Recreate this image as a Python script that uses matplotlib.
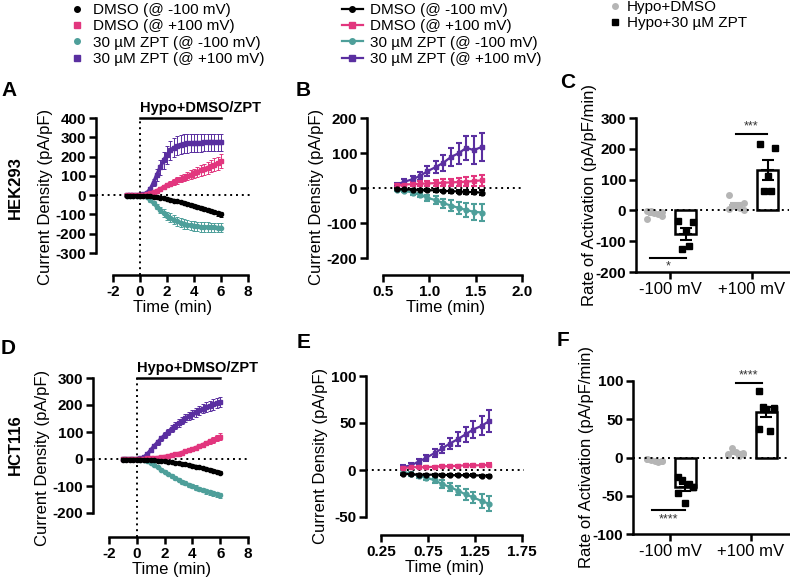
import numpy as np
import matplotlib
matplotlib.use('Agg')
import matplotlib.pyplot as plt
from matplotlib.lines import Line2D

plt.rcParams['font.family'] = ['Liberation Sans', 'DejaVu Sans']
plt.rcParams['axes.unicode_minus'] = False

# ---- time courses, panels A (HEK293) and D (HCT116) ----
t_full = [-1, -0.75, -0.5, -0.25, 0, 0.25, 0.5, 0.75, 1, 1.25, 1.5, 1.75, 2, 2.25, 2.5,
          2.75, 3, 3.25, 3.5, 3.75, 4, 4.25, 4.5, 4.75, 5, 5.25, 5.5, 5.75, 6]

a_dmso_neg = [-3, -3, -3, -3, -3, -4, -5, -6, -8, -10, -13, -16, -20, -24, -28, -32, -36, -40,
              -45, -50, -55, -60, -65, -70, -76, -82, -88, -94, -100]
a_dmso_neg_err = [2, 2, 2, 2, 2, 2, 3, 3, 3, 4, 4, 5, 5, 6, 6, 7, 7, 8, 8, 9, 9, 10, 10, 11, 11,
                  12, 12, 13, 13]
a_dmso_pos = [0, 0, 0, 0, 1, 2, 5, 10, 16, 23, 32, 42, 52, 60, 68, 76, 84, 91, 98, 106, 113, 120,
              128, 135, 142, 150, 158, 166, 175]
a_dmso_pos_err = [2, 2, 2, 2, 2, 2, 3, 4, 5, 6, 8, 10, 12, 13, 15, 16, 18, 19, 21, 22, 24, 25, 27,
                  28, 30, 31, 33, 34, 36]
a_zpt_neg = [-2, -2, -2, -2, -2, -5, -12, -25, -42, -60, -78, -93, -106, -117, -127, -135, -142,
             -148, -153, -157, -160, -162, -164, -165, -166, -167, -167, -168, -168]
a_zpt_neg_err = [2, 2, 2, 2, 2, 3, 5, 8, 11, 14, 17, 19, 21, 22, 23, 24, 24, 25, 25, 25, 25, 25,
                 25, 25, 25, 25, 25, 25, 25]
a_zpt_pos = [0, 0, 0, 0, 1, 4, 12, 30, 65, 105, 145, 180, 210, 232, 246, 256, 262, 266, 268, 270,
             271, 272, 272, 273, 273, 273, 273, 274, 274]
a_zpt_pos_err = [2, 2, 2, 2, 2, 3, 6, 12, 20, 30, 38, 44, 47, 49, 50, 50, 50, 50, 49, 48, 48, 47,
                 47, 46, 46, 45, 45, 45, 45]

d_dmso_neg = [-2, -2, -2, -2, -2, -2, -3, -3, -4, -5, -6, -7, -8, -10, -12, -14, -16, -18, -20,
              -23, -25, -28, -31, -34, -37, -40, -43, -47, -50]
d_dmso_neg_err = [1, 1, 1, 1, 1, 1, 1, 1, 1, 2, 2, 2, 2, 2, 2, 3, 3, 3, 3, 3, 4, 4, 4, 4, 4, 5, 5,
                  5, 5]
d_dmso_pos = [0, 0, 0, 0, 1, 1, 1, 2, 3, 4, 5, 7, 9, 11, 14, 17, 20, 24, 28, 32, 37, 42, 47, 53,
              59, 65, 71, 77, 83]
d_dmso_pos_err = [1, 1, 1, 1, 1, 1, 1, 1, 1, 2, 2, 2, 2, 3, 3, 3, 4, 4, 5, 5, 6, 6, 7, 8, 8, 9, 10,
                  11, 12]
d_zpt_neg = [-1, -1, -1, -1, -1, -2, -4, -9, -16, -23, -31, -39, -47, -55, -63, -70, -77, -84,
             -90, -96, -101, -106, -111, -115, -119, -123, -127, -131, -134]
d_zpt_neg_err = [1, 1, 1, 1, 1, 1, 2, 2, 3, 3, 4, 4, 5, 5, 6, 6, 6, 7, 7, 7, 8, 8, 8, 8, 9, 9, 9,
                 9, 9]
d_zpt_pos = [0, 0, 0, 0, 0, 2, 6, 18, 33, 48, 62, 76, 88, 100, 112, 123, 133, 142, 151, 159, 166,
             173, 180, 186, 192, 197, 202, 207, 211]
d_zpt_pos_err = [1, 1, 1, 1, 1, 1, 2, 4, 6, 8, 9, 10, 11, 12, 13, 13, 14, 14, 15, 15, 16, 16, 17,
                 17, 18, 18, 19, 19, 20]

# ---- early window, panels B and E ----
t_b = [0.65, 0.73, 0.82, 0.90, 0.98, 1.07, 1.15, 1.23, 1.32, 1.40, 1.48, 1.57]
b_dmso_neg = [-3, -4, -5, -5, -6, -7, -8, -9, -10, -11, -12, -13]
b_dmso_neg_err = [2, 2, 2, 2, 3, 3, 3, 4, 4, 5, 6, 7]
b_dmso_pos = [8, 10, 11, 12, 13, 14, 15, 16, 17, 18, 20, 22]
b_dmso_pos_err = [4, 5, 6, 7, 8, 9, 10, 11, 12, 13, 14, 15]
b_zpt_neg = [-5, -8, -13, -20, -28, -35, -43, -50, -57, -63, -68, -70]
b_zpt_neg_err = [3, 4, 6, 7, 9, 11, 13, 15, 17, 20, 22, 24]
b_zpt_pos = [10, 18, 25, 35, 48, 60, 72, 88, 100, 115, 108, 118]
b_zpt_pos_err = [5, 7, 9, 12, 15, 18, 22, 26, 30, 35, 40, 40]

t_e = [0.48, 0.57, 0.65, 0.73, 0.82, 0.90, 0.98, 1.07, 1.15, 1.23, 1.32, 1.40]
e_dmso_neg = [-4, -4.5, -5, -5, -5, -5, -5.5, -5.5, -5.5, -5.5, -6, -6]
e_dmso_neg_err = [1, 1, 1, 1, 1, 1, 1, 1, 1, 1, 1, 1]
e_dmso_pos = [2, 3, 3, 3, 3.5, 4, 4, 4.5, 5, 5, 5, 5.5]
e_dmso_pos_err = [1, 1, 1, 1, 1, 1, 1, 1, 1.5, 1.5, 1.5, 1.5]
e_zpt_neg = [-2, -4, -6, -8, -11, -15, -18, -22, -26, -29, -33, -36]
e_zpt_neg_err = [2, 2, 2, 3, 3, 4, 4, 5, 6, 6, 7, 8]
e_zpt_pos = [3, 5, 9, 13, 18, 23, 28, 33, 38, 43, 47, 52]
e_zpt_pos_err = [2, 2, 3, 3, 4, 5, 6, 7, 8, 9, 10, 12]

# ---- rate of activation, panels C and F ----
voltages = ['-100 mV', '+100 mV']
c_dmso_neg = [-2, -5, -8, -3, -12, -28, -18]
c_zpt_neg = [-36, -39, -66, -126, -117]
c_dmso_pos = [50, 24, 13, 15, 8, 4, 2]
c_zpt_pos = [217, 203, 111, 62, 64]
f_dmso_neg = [-2, -4, -5, -3, -6, -2, -4]
f_zpt_neg = [-25, -39, -60, -29, -35, -47, -38]
f_dmso_pos = [3, 5, 7, 12, 2, 4, 6]
f_zpt_pos = [87, 63, 63, 66, 35, 37, 65]

series_labels = ['DMSO (@ -100 mV)', 'DMSO (@ +100 mV)', '30 µM ZPT (@ -100 mV)',
                 '30 µM ZPT (@ +100 mV)']
colors = ['#000000', '#e2367e', '#4e9f9a', '#5a2fa0']
markers = ['o', 's', 'o', 's']
gray = '#b5b5b5'

W, H = 790, 579
fig = plt.figure(figsize=(W / 100, H / 100), dpi=100)


def make_ax(box, xmap, ymap):
    # box in pixels (left, top, right, bottom); maps give two (value, pixel) pairs
    l, t, r, b = box
    ax = fig.add_axes([l / W, 1 - b / H, (r - l) / W, (b - t) / H])
    (x0, p0), (x1, p1) = xmap
    k = (p1 - p0) / (x1 - x0)
    ax.set_xlim(x0 - (p0 - l) / k, x0 + (r - p0) / k)
    (y0, q0), (y1, q1) = ymap
    k = (q0 - q1) / (y1 - y0)
    ax.set_ylim(y0 - (b - q0) / k, y0 + (q0 - t) / k)
    for s in ['top', 'right']:
        ax.spines[s].set_visible(False)
    for s in ['left', 'bottom']:
        ax.spines[s].set_linewidth(1.8)
    ax.tick_params(width=1.8, length=5, labelsize=11, pad=2)
    return ax


def bold_ticks(ax, which='both'):
    labels = []
    if which in ('both', 'y'):
        labels += ax.get_yticklabels()
    if which in ('both', 'x'):
        labels += ax.get_xticklabels()
    for lab in labels:
        lab.set_fontweight('bold')


def timecourse(ax, t, means, errs, small):
    for i in [3, 2, 1, 0]:
        if small:
            ax.errorbar(t, means[i], yerr=errs[i], color=colors[i], marker=markers[i], ms=3.5,
                        lw=1.6, elinewidth=1.5, capsize=2.5, capthick=1.5, zorder=3)
        else:
            ax.errorbar(t, means[i], yerr=errs[i], color=colors[i], marker=markers[i], ms=3,
                        lw=2.6, elinewidth=0.7, capsize=1.2, capthick=0.7, zorder=3)


def spread(n, w):
    pattern = [-1, 1, 0, -0.5, 0.5, -1, 1]
    return np.array(pattern[:n]) * w


def rate_panel(ax, groups):
    for j, (dmso, zpt) in enumerate(groups):
        xd, xz = j - 0.19, j + 0.19
        md, sd = np.mean(dmso), np.std(dmso, ddof=1) / np.sqrt(len(dmso))
        mz, sz = np.mean(zpt), np.std(zpt, ddof=1) / np.sqrt(len(zpt))
        ax.bar(xz, mz, width=0.25, facecolor='white', edgecolor='k', lw=1.8, zorder=2)
        ax.plot(xd + spread(len(dmso), 0.09), dmso, 'o', color=gray, ms=5, mec='none', zorder=3)
        ax.plot(xz + spread(len(zpt), 0.09), zpt, 's', color='k', ms=5, zorder=3)
        ax.errorbar(xd, md, yerr=sd, color=gray, lw=1.5, capsize=4, capthick=1.5, zorder=4)
        ax.hlines(md, xd - 0.09, xd + 0.09, color=gray, lw=1.5, zorder=4)
        ax.errorbar(xz, mz, yerr=sz, color='k', lw=1.5, capsize=4, capthick=1.5, zorder=4)
        ax.hlines(mz, xz - 0.08, xz + 0.08, color='k', lw=1.5, zorder=4)
    ax.axhline(0, color='k', ls=(0, (1, 2)), lw=1.4, zorder=5)
    ax.set_xticks([0, 1])
    ax.set_xticklabels(voltages, fontsize=12)
    ax.set_ylabel('Rate of Activation (pA/pF/min)', fontsize=12, labelpad=-1)
    bold_ticks(ax, 'y')


def signif(ax, x0, x1, y, text, above):
    ax.plot([x0, x1], [y, y], color='k', lw=1.5, clip_on=False)
    ax.annotate(text, xy=((x0 + x1) / 2, y), xytext=(0, 1 if above else -2),
                textcoords='offset points', ha='center', va='bottom' if above else 'top',
                fontsize=9, color='#333333', annotation_clip=False)


def time_labels(ax):
    ax.set_xlabel('Time (min)', fontsize=12, labelpad=1)
    ax.set_ylabel('Current Density (pA/pF)', fontsize=12, labelpad=2)
    bold_ticks(ax)


# ---- panel A ----
ax = make_ax((96, 118, 250, 275), ((-2, 113), (8, 248)), ((-300, 253), (400, 118)))
timecourse(ax, t_full, [a_dmso_neg, a_dmso_pos, a_zpt_neg, a_zpt_pos],
           [a_dmso_neg_err, a_dmso_pos_err, a_zpt_neg_err, a_zpt_pos_err], False)
ax.set_xticks(range(-2, 9, 2))
ax.set_yticks(range(-300, 401, 100))
ax.spines['left'].set_bounds(-300, 400)
ax.spines['bottom'].set_bounds(-2, 8)
ax.axhline(0, color='k', ls=(0, (1, 2)), lw=1.4, zorder=1)
ax.axvline(0, color='k', ls=(0, (1, 2)), lw=1.4, zorder=1)
ax.plot([0, 6], [400, 400], color='k', lw=1.8, clip_on=False)
ax.annotate('Hypo+DMSO/ZPT', xy=(0, 400), xytext=(0, 2), textcoords='offset points',
            ha='left', va='bottom', fontsize=10.5, fontweight='bold', annotation_clip=False)
time_labels(ax)

# ---- panel B ----
ax = make_ax((367, 118, 524, 275), ((0.5, 383), (2.0, 522)), ((-200, 258), (200, 118)))
timecourse(ax, t_b, [b_dmso_neg, b_dmso_pos, b_zpt_neg, b_zpt_pos],
           [b_dmso_neg_err, b_dmso_pos_err, b_zpt_neg_err, b_zpt_pos_err], True)
ax.set_xticks([0.5, 1.0, 1.5, 2.0])
ax.set_xticklabels(['0.5', '1.0', '1.5', '2.0'])
ax.set_yticks(range(-200, 201, 100))
ax.spines['left'].set_bounds(-200, 200)
ax.spines['bottom'].set_bounds(0.5, 2.0)
ax.axhline(0, color='k', ls=(0, (1, 2)), lw=1.4, zorder=1)
time_labels(ax)

# ---- panel C ----
ax = make_ax((636, 118, 789, 272), ((0, 670), (1, 752)), ((-200, 272), (300, 118)))
rate_panel(ax, [(c_dmso_neg, c_zpt_neg), (c_dmso_pos, c_zpt_pos)])
ax.set_yticks(range(-200, 301, 100))
ax.spines['left'].set_bounds(-200, 300)
bold_ticks(ax, 'y')
signif(ax, -0.25, 0.2, -155, '*', False)
signif(ax, 0.8, 1.18, 248, '***', True)

# ---- panel D ----
ax = make_ax((93, 378, 250, 537), ((-2, 109), (8, 248)), ((-200, 513), (300, 378)))
timecourse(ax, t_full, [d_dmso_neg, d_dmso_pos, d_zpt_neg, d_zpt_pos],
           [d_dmso_neg_err, d_dmso_pos_err, d_zpt_neg_err, d_zpt_pos_err], False)
ax.set_xticks(range(-2, 9, 2))
ax.set_yticks(range(-200, 301, 100))
ax.spines['left'].set_bounds(-200, 300)
ax.spines['bottom'].set_bounds(-2, 8)
ax.axhline(0, color='k', ls=(0, (1, 2)), lw=1.4, zorder=1)
ax.axvline(0, color='k', ls=(0, (1, 2)), lw=1.4, zorder=1)
ax.plot([0, 6], [300, 300], color='k', lw=1.8, clip_on=False)
ax.annotate('Hypo+DMSO/ZPT', xy=(0, 300), xytext=(0, 2), textcoords='offset points',
            ha='left', va='bottom', fontsize=10.5, fontweight='bold', annotation_clip=False)
time_labels(ax)

# ---- panel E ----
ax = make_ax((366, 376, 524, 535), ((0.25, 381), (1.75, 522)), ((-50, 517), (100, 376)))
timecourse(ax, t_e, [e_dmso_neg, e_dmso_pos, e_zpt_neg, e_zpt_pos],
           [e_dmso_neg_err, e_dmso_pos_err, e_zpt_neg_err, e_zpt_pos_err], True)
ax.set_xticks([0.25, 0.75, 1.25, 1.75])
ax.set_xticklabels(['0.25', '0.75', '1.25', '1.75'])
ax.set_yticks([-50, 0, 50, 100])
ax.spines['left'].set_bounds(-50, 100)
ax.spines['bottom'].set_bounds(0.25, 1.75)
ax.axhline(0, color='k', ls=(0, (1, 2)), lw=1.4, zorder=1)
time_labels(ax)

# ---- panel F ----
ax = make_ax((633, 381, 789, 534), ((0, 670), (1, 751)), ((-100, 534), (100, 381)))
rate_panel(ax, [(f_dmso_neg, f_zpt_neg), (f_dmso_pos, f_zpt_pos)])
ax.set_yticks([-100, -50, 0, 50, 100])
ax.spines['left'].set_bounds(-100, 100)
bold_ticks(ax, 'y')
signif(ax, -0.22, 0.19, -69, '****', False)
signif(ax, 0.81, 1.14, 97, '****', True)

# ---- legends ----
h1 = [Line2D([], [], ls='none', marker=markers[i], color=colors[i], ms=4) for i in range(4)]
fig.legend(h1, series_labels, loc='upper left', bbox_to_anchor=(69 / W, 1 - 3 / H),
           frameon=False, fontsize=11, handlelength=1.0, handletextpad=0.55,
           labelspacing=0.15, borderpad=0, borderaxespad=0)
h2 = [Line2D([], [], marker=markers[i], color=colors[i], ms=4, lw=1.6) for i in range(4)]
fig.legend(h2, series_labels, loc='upper left', bbox_to_anchor=(342 / W, 1 - 3 / H),
           frameon=False, fontsize=11, handlelength=1.35, handletextpad=0.5,
           labelspacing=0.15, borderpad=0, borderaxespad=0)
h3 = [Line2D([], [], ls='none', marker='o', color=gray, mec='none', ms=5),
      Line2D([], [], ls='none', marker='s', color='k', ms=5)]
fig.legend(h3, ['Hypo+DMSO', 'Hypo+30 µM ZPT'], loc='upper left',
           bbox_to_anchor=(609 / W, 1 - 0 / H), frameon=False, fontsize=11,
           handlelength=0.8, handletextpad=0.35, labelspacing=0.15, borderpad=0,
           borderaxespad=0)

# ---- panel letters and row labels ----
for letter, x, y in [('A', 1, 90), ('B', 296, 90), ('C', 560, 83),
                     ('D', 1, 348), ('E', 297, 343), ('F', 557, 341)]:
    fig.text(x / W, 1 - y / H, letter, fontsize=15, fontweight='bold', ha='left', va='center')
fig.text(15 / W, 1 - 188 / H, 'HEK293', rotation=90, fontsize=12, fontweight='bold',
         ha='center', va='center')
fig.text(15 / W, 1 - 445 / H, 'HCT116', rotation=90, fontsize=12, fontweight='bold',
         ha='center', va='center')

fig.savefig('out.png', dpi=100)
